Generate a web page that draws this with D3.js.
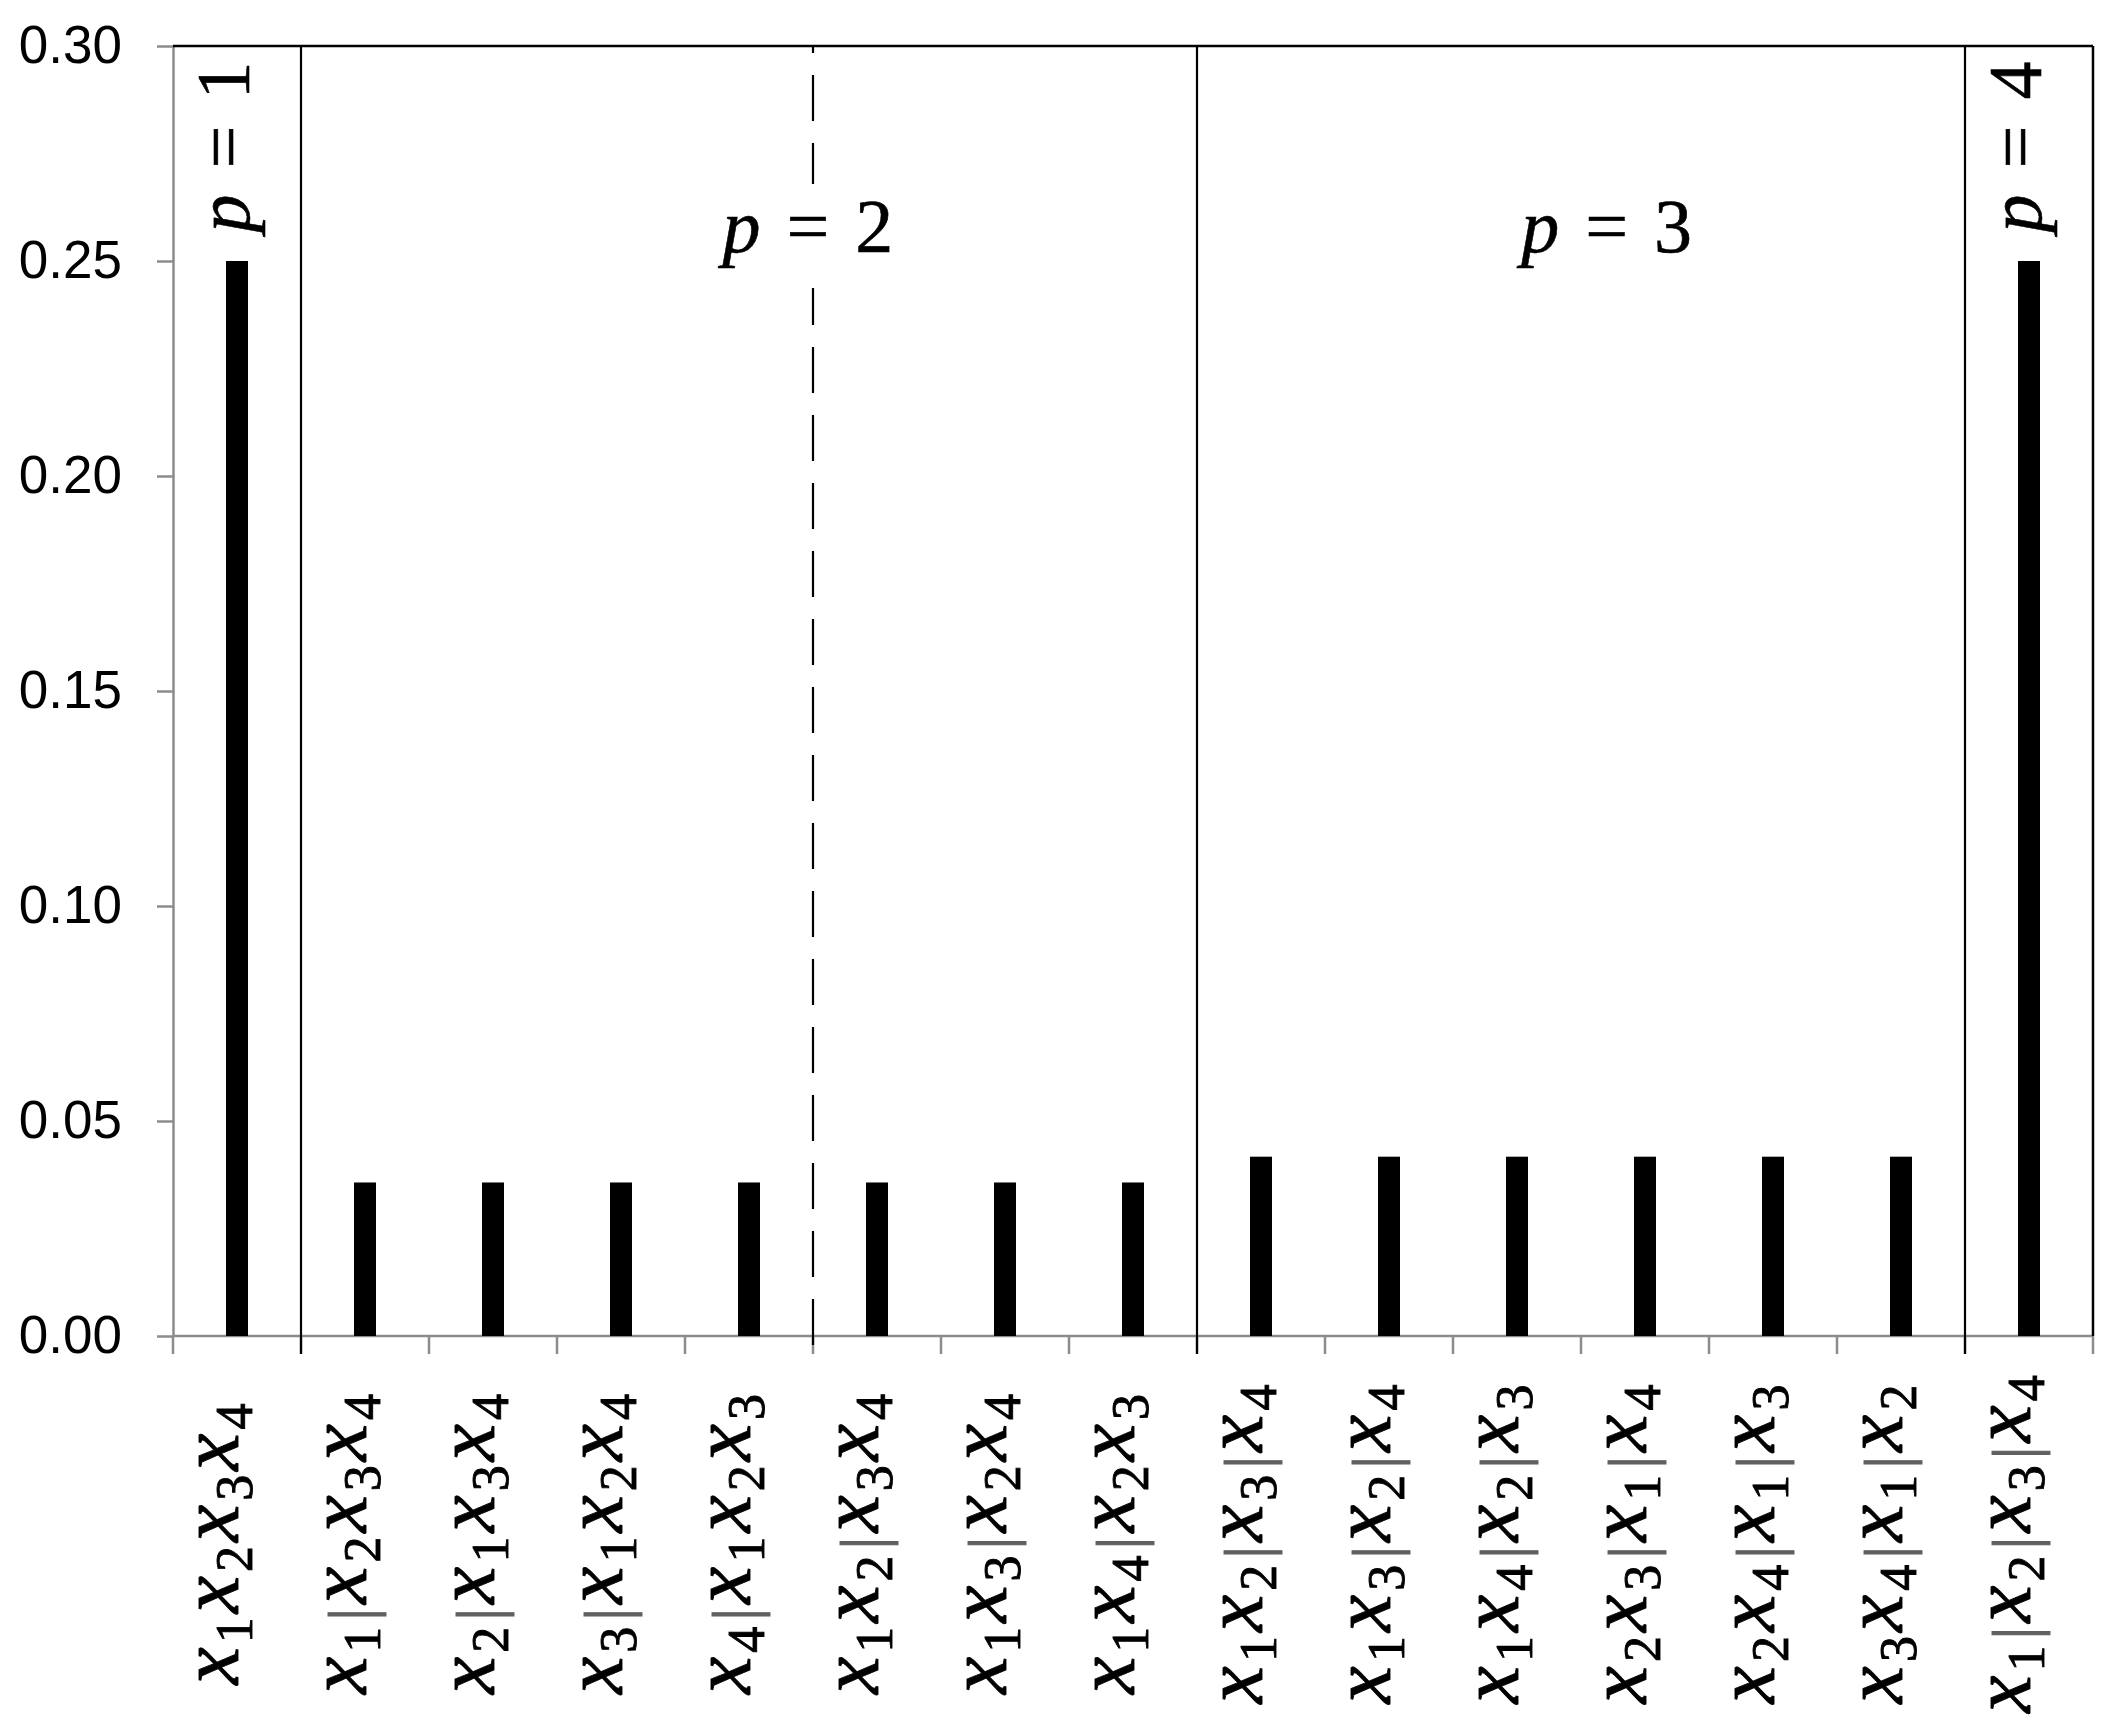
<!DOCTYPE html>
<html>
<head>
<meta charset="utf-8">
<script src="https://cdn.jsdelivr.net/npm/d3@7"></script>
<style>
  html, body { margin: 0; padding: 0; background: #ffffff; }
  svg { display: block; }
  .serif, .serif tspan { font-family: "Liberation Serif", "DejaVu Serif", "Noto Serif", "Times New Roman", serif; }
</style>
</head>
<body>
<div id="chart"></div>
<script>
// ---------- data ----------
const categories = [
  "x1x2x3x4",
  "x1|x2x3x4", "x2|x1x3x4", "x3|x1x2x4", "x4|x1x2x3",
  "x1x2|x3x4", "x1x3|x2x4", "x1x4|x2x3",
  "x1x2|x3|x4", "x1x3|x2|x4", "x1x4|x2|x3", "x2x3|x1|x4", "x2x4|x1|x3", "x3x4|x1|x2",
  "x1|x2|x3|x4"
];
const values = [
  0.25,
  0.0357, 0.0357, 0.0357, 0.0357,
  0.0357, 0.0357, 0.0357,
  0.0417, 0.0417, 0.0417, 0.0417, 0.0417, 0.0417,
  0.25
];
const groupP = [1, 2, 2, 2, 2, 2, 2, 2, 3, 3, 3, 3, 3, 3, 4];
const yTicks = [0, 0.05, 0.10, 0.15, 0.20, 0.25, 0.30];
const yTickLabels = ["0.00", "0.05", "0.10", "0.15", "0.20", "0.25", "0.30"];
const solidBoundaries = [1, 8, 14];   // between partition groups
const dashedBoundaries = [5];         // inside p = 2
const pLabels = [
  { text: "1", cat: 0, rotated: true },
  { text: "2", cat: 5, rotated: false, offset: -0.04, box: true },
  { text: "3", cat: 11, rotated: false, offset: 0.2 },
  { text: "4", cat: 14, rotated: true }
];

// ---------- layout ----------
const W = 2118, H = 1732;
const plotLeft = 173, plotRight = 2093, plotTop = 46, plotBottom = 1336;
const GRAY = "#8c8c8c";

const svg = d3.select("#chart").append("svg")
  .attr("width", W).attr("height", H)
  .style("background", "#fff");

const x = d3.scaleBand()
  .domain(d3.range(categories.length))
  .range([plotLeft, plotRight])
  .padding(0);
const bw = x.bandwidth();
const y = d3.scaleLinear().domain([0, 0.30]).range([plotBottom, plotTop]);
const boundaryX = i => plotLeft + i * x.step();

// ---------- y axis ----------
const yAxis = d3.axisLeft(y)
  .tickValues(yTicks)
  .tickFormat((d, i) => yTickLabels[i])
  .tickSize(16)
  .tickSizeOuter(0)
  .tickPadding(35);
const gy = svg.append("g").attr("transform", `translate(${plotLeft},0)`).call(yAxis);
gy.attr("font-family", null).attr("font-size", null);
gy.select(".domain").attr("stroke", GRAY).attr("stroke-width", 2.5);
gy.selectAll(".tick line").attr("stroke", GRAY).attr("stroke-width", 2.5);
gy.selectAll(".tick text")
  .attr("fill", "#000")
  .attr("font-family", "Liberation Sans, Arial, sans-serif")
  .attr("font-size", 53);

// ---------- x axis (band boundaries) ----------
svg.append("line")
  .attr("x1", plotLeft).attr("x2", plotRight)
  .attr("y1", y(0)).attr("y2", y(0))
  .attr("stroke", GRAY).attr("stroke-width", 2.5);
svg.append("g").selectAll("line")
  .data(d3.range(categories.length + 1))
  .join("line")
  .attr("x1", d => boundaryX(d)).attr("x2", d => boundaryX(d))
  .attr("y1", y(0)).attr("y2", y(0) + 18)
  .attr("stroke", GRAY).attr("stroke-width", 2.5);

// ---------- frame (top and right) ----------
svg.append("line")
  .attr("x1", plotLeft).attr("x2", plotRight)
  .attr("y1", y(0.30)).attr("y2", y(0.30))
  .attr("stroke", "#000").attr("stroke-width", 2.5);
svg.append("line")
  .attr("x1", plotRight).attr("x2", plotRight)
  .attr("y1", y(0.30)).attr("y2", y(0))
  .attr("stroke", "#000").attr("stroke-width", 2.5);

// ---------- separators ----------
svg.append("g").selectAll("line")
  .data(solidBoundaries)
  .join("line")
  .attr("x1", d => boundaryX(d)).attr("x2", d => boundaryX(d))
  .attr("y1", y(0.30)).attr("y2", y(0) + 18)
  .attr("stroke", "#000").attr("stroke-width", 2.2);
svg.append("g").selectAll("line")
  .data(dashedBoundaries)
  .join("line")
  .attr("x1", d => boundaryX(d)).attr("x2", d => boundaryX(d))
  .attr("y1", y(0.30)).attr("y2", y(0) + 18)
  .attr("stroke", "#000").attr("stroke-width", 2.2)
  .attr("stroke-dasharray", "46,22")
  .attr("stroke-dashoffset", 39);

// ---------- bars ----------
const barW = 22;
svg.append("g").selectAll("rect")
  .data(values)
  .join("rect")
  .attr("x", (d, i) => x(i) + bw / 2 - barW / 2)
  .attr("width", barW)
  .attr("y", d => y(d))
  .attr("height", d => y(0) - y(d))
  .attr("fill", "#000");

// ---------- x tick labels (math, rotated) ----------
const subShift = 14;
const barShift = 6;
function buildLabel(textSel, spec) {
  let cur = 0;
  for (let i = 0; i < spec.length; i++) {
    const ch = spec[i];
    if (ch === "x") {
      textSel.append("tspan")
        .attr("dy", -cur)
        .attr("font-style", "italic")
        .attr("font-size", 84)
        .text("x");
      cur = 0;
    } else if (ch === "|") {
      textSel.append("tspan")
        .attr("dy", barShift - cur)
        .attr("dx", 2)
        .attr("fill", "#606060")
        .attr("stroke", "#606060")
        .attr("font-style", "normal")
        .attr("font-size", 64)
        .text("|");
      cur = barShift;
    } else {
      textSel.append("tspan")
        .attr("dy", subShift - cur)
        .attr("font-style", "normal")
        .attr("font-size", 52)
        .text(ch);
      cur = subShift;
    }
  }
}
const labels = svg.append("g").selectAll("text")
  .data(categories)
  .join("text")
  .attr("class", "serif")
  .attr("transform", (d, i) => `translate(${x(i) + bw / 2 + 1},1542) rotate(-90)`)
  .attr("text-anchor", "middle")
  .attr("fill", "#000")
  .attr("stroke", "#000")
  .attr("stroke-width", 0.9)
  .attr("letter-spacing", 4);
labels.each(function (d) { buildLabel(d3.select(this), d); });

// ---------- p = k annotations ----------
const pg = svg.append("g");
pLabels.forEach(pl => {
  let transform;
  if (pl.rotated) {
    transform = `translate(${x(pl.cat) + bw / 2 + 12},147) rotate(-90)`;
  } else {
    transform = `translate(${boundaryX(pl.cat) + pl.offset * bw},252)`;
  }
  const g = pg.append("g").attr("transform", transform);
  const t = g.append("text")
    .attr("class", "serif")
    .attr("text-anchor", "middle")
    .attr("fill", "#000")
    .attr("stroke", "#000")
    .attr("stroke-width", 0.6)
    .attr("font-size", 76);
  t.append("tspan").attr("font-style", "italic").text("p");
  t.append("tspan").attr("dx", 26).text("=");
  t.append("tspan").attr("dx", 26).text(pl.text);
  if (pl.box) {
    const bb = t.node().getBBox();
    g.insert("rect", "text")
      .attr("x", bb.x - 4).attr("width", bb.width + 8)
      .attr("y", bb.y).attr("height", bb.height + 20)
      .attr("fill", "#fff")
      .attr("stroke", "none");
  }
});
</script>
</body>
</html>
